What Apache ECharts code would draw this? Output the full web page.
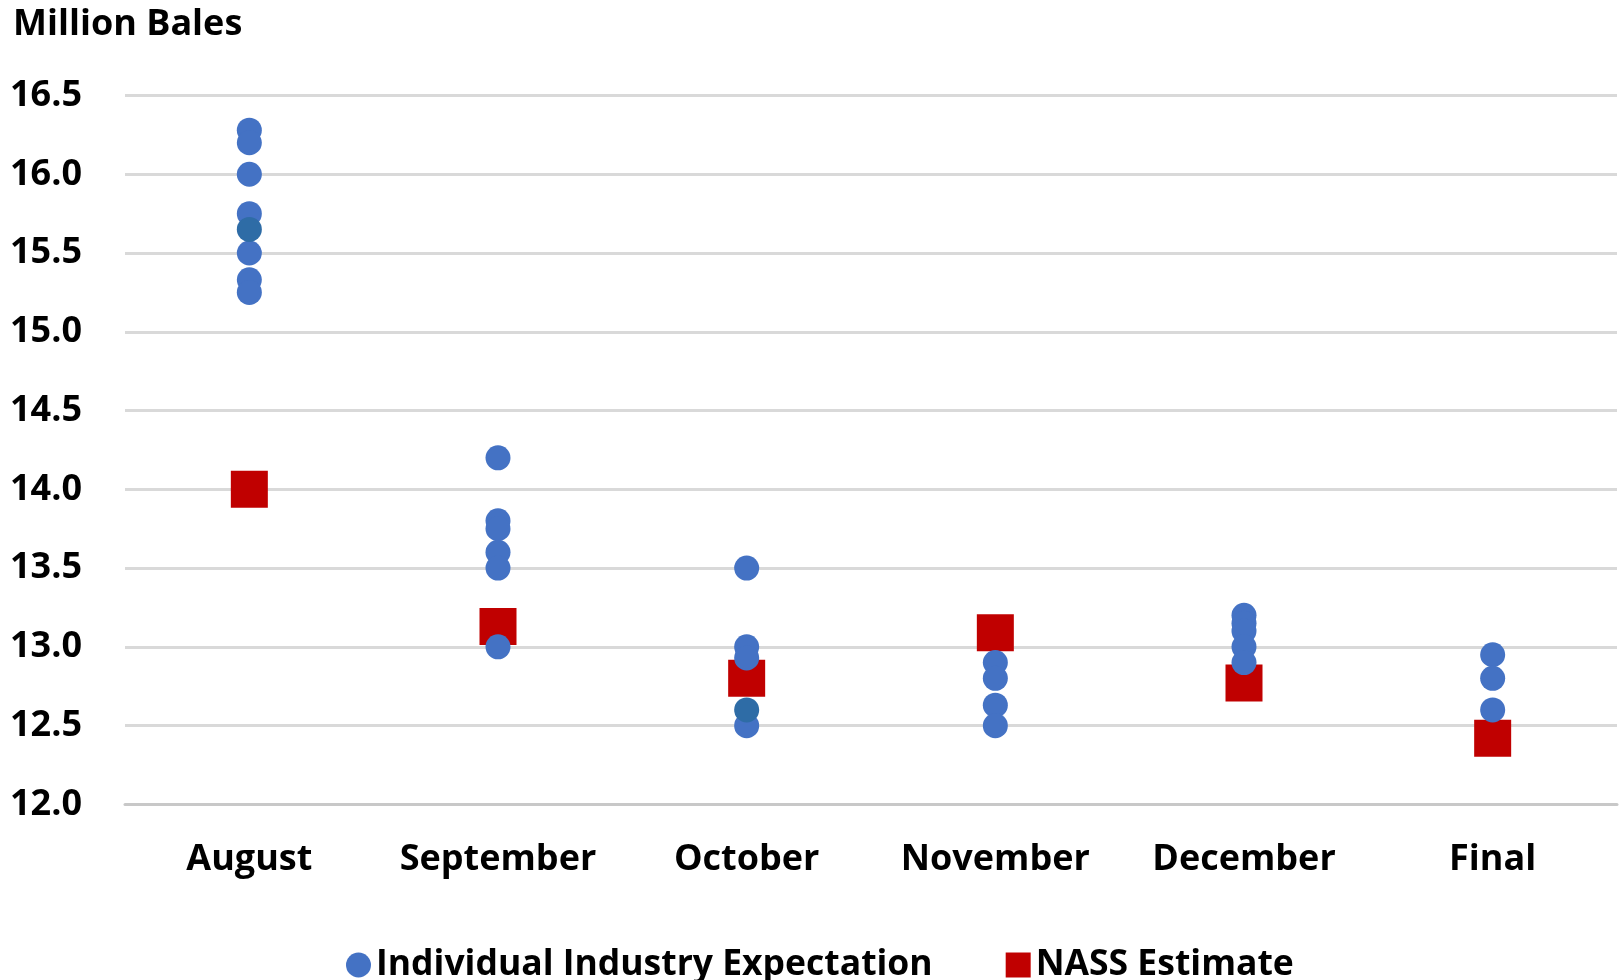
<!DOCTYPE html>
<html>
<head>
<meta charset="utf-8">
<script src="https://cdn.jsdelivr.net/npm/echarts@6/dist/echarts.min.js"></script>
<style>
html,body{margin:0;padding:0;background:#fff;}
#chart{width:1623px;height:980px;}
</style>
</head>
<body>
<div id="chart"></div>
<script>
const categories = ['August', 'September', 'October', 'November', 'December', 'Final'];
const yTicks = [12.0, 12.5, 13.0, 13.5, 14.0, 14.5, 15.0, 15.5, 16.0, 16.5];
// Individual industry expectations per release
const industryAug = [16.28, 16.2, 16.0, 15.75, 15.5, 15.33, 15.25];
const industrySep = [14.2, 13.8, 13.75, 13.6, 13.5, 13.0];
const industryOct = [13.5, 13.0, 12.93, 12.5];
const industryNov = [12.9, 12.8, 12.63, 12.5];
const industryDec = [13.2, 13.15, 13.1, 13.0, 12.9];
const industryFinal = [12.95, 12.8, 12.6];
// points drawn in the darker shade
const industryDarkAug = [15.65];
const industryDarkOct = [12.6];
// NASS estimates
const nassEstimate = [14.0, 13.13, 12.8, 13.09, 12.77, 12.42];

const industryByMonth = [industryAug, industrySep, industryOct, industryNov, industryDec, industryFinal];
const industryDarkByMonth = [industryDarkAug, [], industryDarkOct, [], [], []];

const industryData = [];
industryByMonth.forEach((vals, i) => vals.forEach(v => industryData.push([categories[i], v])));
const industryDarkData = [];
industryDarkByMonth.forEach((vals, i) => vals.forEach(v => industryDarkData.push([categories[i], v])));
const nassData = nassEstimate.map((v, i) => [categories[i], v]);

const FONT = 'Open Sans';
const chart = echarts.init(document.getElementById('chart'));
chart.setOption({
  animation: false,
  backgroundColor: '#ffffff',
  title: {
    text: 'Million Bales',
    left: 8,
    top: 2,
    textStyle: {fontFamily: FONT, fontWeight: 'bold', fontSize: 36, color: '#000'}
  },
  grid: {left: 125, right: 6, top: 95.5, bottom: 175.6},
  legend: {
    left: 341,
    top: 942,
    itemWidth: 25,
    itemHeight: 25,
    itemGap: 73,
    textStyle: {fontFamily: FONT, fontWeight: 'bold', fontSize: 35.5, color: '#000'},
    data: [
      {name: 'Individual Industry Expectation', icon: 'circle'},
      {name: 'NASS Estimate', icon: 'rect'}
    ]
  },
  xAxis: {
    type: 'category',
    data: categories,
    boundaryGap: true,
    axisLine: {show: true, lineStyle: {color: '#c8c8c8', width: 3}},
    axisTick: {show: false},
    axisLabel: {interval: 0, margin: 37, fontFamily: FONT, fontWeight: 'bold', fontSize: 36, color: '#000'},
    splitLine: {show: false}
  },
  yAxis: {
    type: 'value',
    min: yTicks[0],
    max: yTicks[yTicks.length - 1],
    interval: 0.5,
    axisLine: {show: false},
    axisTick: {show: false},
    axisLabel: {
      margin: 43,
      fontFamily: FONT, fontWeight: 'bold', fontSize: 36, color: '#000',
      formatter: v => v.toFixed(1)
    },
    splitLine: {lineStyle: {color: '#d9d9d9', width: 3}}
  },
  series: [
    {
      name: 'NASS Estimate',
      type: 'scatter',
      symbol: 'rect',
      symbolSize: 37,
      itemStyle: {color: '#C00000', opacity: 1},
      data: nassData,
      z: 2
    },
    {
      name: 'Individual Industry Expectation',
      type: 'scatter',
      symbol: 'circle',
      symbolSize: 25,
      itemStyle: {color: '#4472C4', opacity: 1},
      data: industryData,
      z: 3
    },
    {
      name: 'Individual Industry Expectation',
      type: 'scatter',
      symbol: 'circle',
      symbolSize: 25,
      itemStyle: {color: '#2E6CA6', opacity: 1},
      data: industryDarkData,
      z: 4
    }
  ]
});
</script>
</body>
</html>
